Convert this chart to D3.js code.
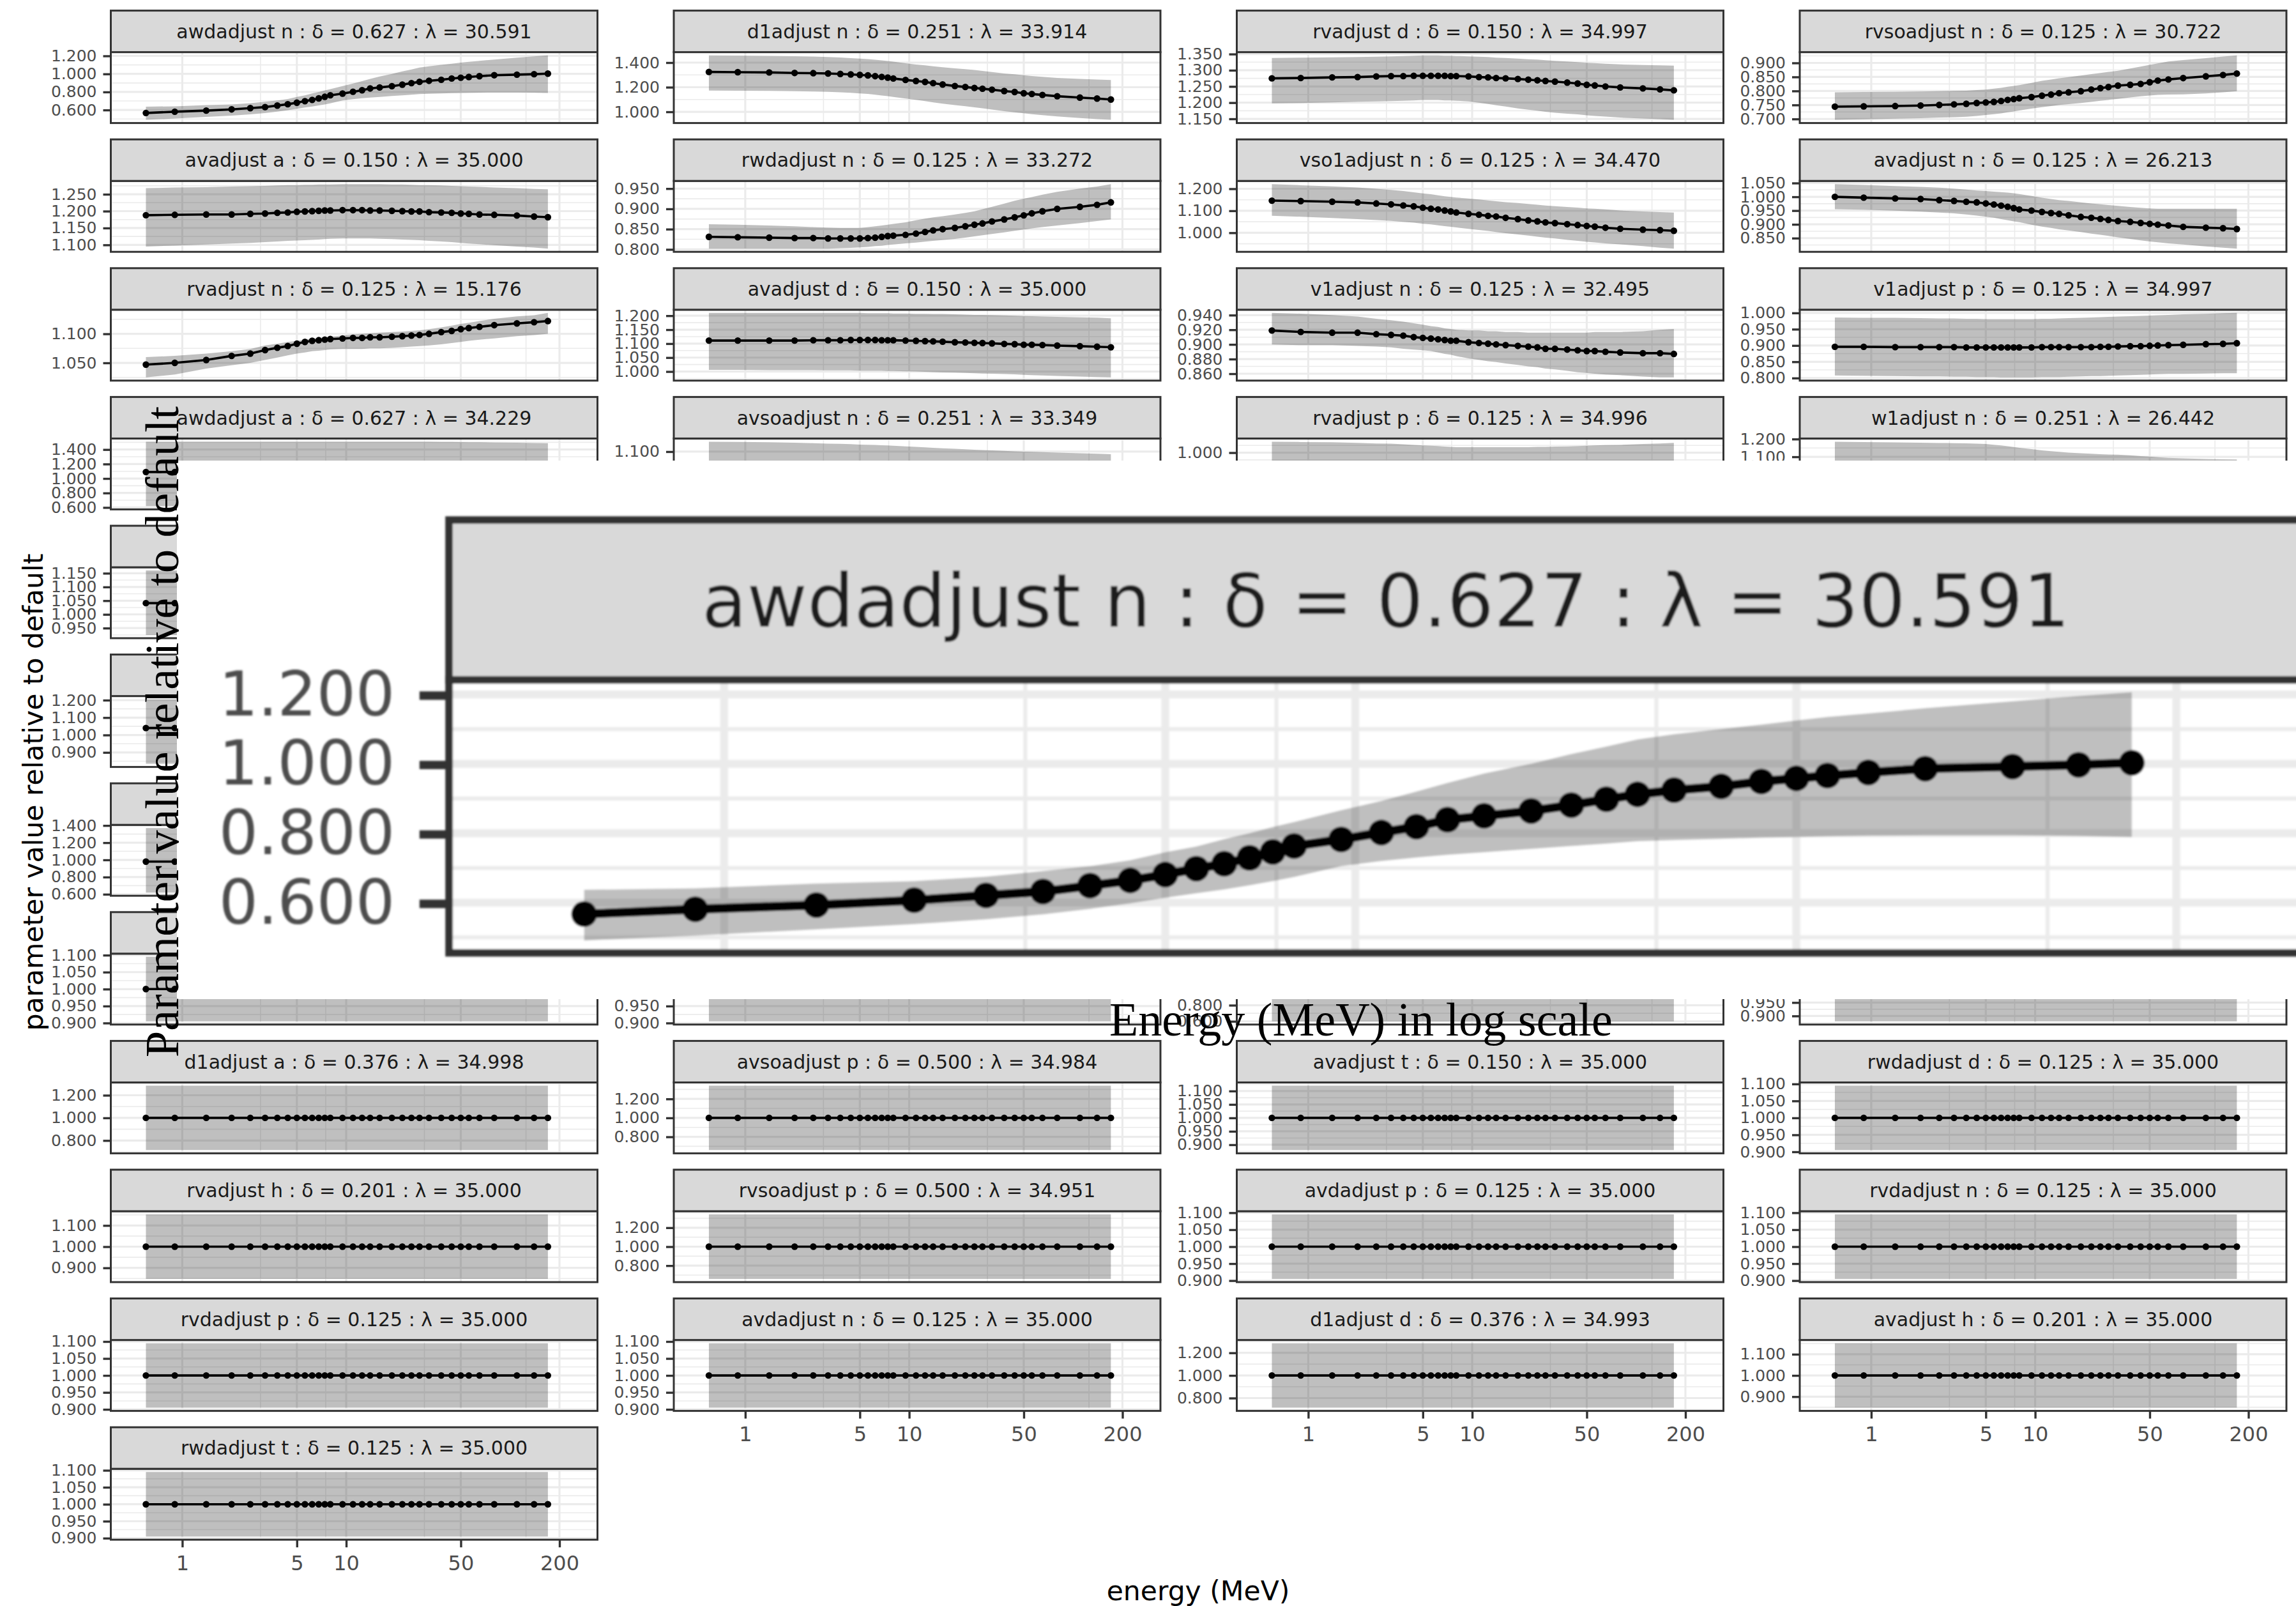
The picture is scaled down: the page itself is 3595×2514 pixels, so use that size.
<!DOCTYPE html>
<html>
<head>
<meta charset="utf-8">
<script src="https://cdn.jsdelivr.net/npm/d3@7"></script>
<style>
  html, body { margin: 0; padding: 0; background: #ffffff; }
  svg { display: block; }
</style>
</head>
<body>
<svg id="chart" width="3595" height="2514">
  <defs>
    <filter id="soft" x="-2%" y="-2%" width="104%" height="104%">
      <feGaussianBlur stdDeviation="0.45"/>
    </filter>
  </defs>
</svg>
<script>
// ---------------- data ----------------
const energy = [0.6, 0.9, 1.4, 2, 2.6, 3.2, 3.8, 4.4, 5, 5.6, 6.2,
                6.8, 7.4, 8, 9.5, 11, 12.5, 14, 16, 19, 22, 25,
                28, 32, 38, 44, 50, 56, 65, 80, 110, 140, 170];
const energyLimits = [0.5, 250];
const energyTicks = [1, 5, 10, 50, 200];
const energyMinorTicks = [3, 7.5, 30, 125];

// awdadjust n
const valAwdadjustN = [0.567,0.581,0.593,0.607,0.621,0.632,0.649,0.664,0.681,0.698,0.712,
  0.729,0.746,0.763,0.782,0.802,0.819,0.839,0.850,0.864,0.881,0.898,
  0.912,0.924,0.935,0.949,0.958,0.966,0.975,0.986,0.992,0.997,1.003];
const hiAwdadjustN = [0.637,0.641,0.655,0.662,0.675,0.691,0.705,0.722,0.745,0.762,0.783,
  0.800,0.818,0.832,0.866,0.893,0.920,0.945,0.972,1.000,1.028,1.050,
  1.070,1.085,1.100,1.113,1.125,1.135,1.145,1.160,1.180,1.195,1.206];
const loAwdadjustN = [0.491,0.505,0.523,0.538,0.552,0.566,0.582,0.598,0.614,0.627,0.638,
  0.650,0.662,0.674,0.705,0.720,0.730,0.738,0.745,0.755,0.763,0.770,
  0.777,0.780,0.784,0.787,0.789,0.791,0.793,0.794,0.794,0.792,0.789];

// d1adjust n
const valD1adjustN = [1.324,1.322,1.320,1.316,1.314,1.312,1.308,1.304,1.300,1.296,1.290,
  1.284,1.278,1.271,1.259,1.251,1.243,1.233,1.222,1.210,1.202,1.194,
  1.188,1.180,1.169,1.161,1.151,1.145,1.137,1.127,1.116,1.108,1.100];
const hiD1adjustN = [1.459,1.457,1.455,1.452,1.449,1.445,1.441,1.437,1.432,1.428,1.423,
  1.418,1.413,1.408,1.395,1.385,1.378,1.370,1.362,1.353,1.347,1.340,
  1.332,1.323,1.312,1.305,1.297,1.291,1.284,1.276,1.268,1.263,1.259];
const loD1adjustN = [1.173,1.171,1.170,1.168,1.165,1.163,1.159,1.155,1.150,1.145,1.139,
  1.133,1.127,1.121,1.108,1.097,1.087,1.077,1.067,1.055,1.046,1.037,
  1.029,1.019,1.006,0.996,0.988,0.981,0.973,0.963,0.950,0.941,0.935];

// rvadjust d
const valRvadjustD = [1.275,1.276,1.278,1.279,1.281,1.282,1.282,1.283,1.283,1.283,1.283,
  1.283,1.282,1.282,1.281,1.279,1.278,1.276,1.275,1.273,1.271,1.269,
  1.267,1.265,1.262,1.259,1.255,1.253,1.250,1.247,1.244,1.241,1.238];
const hiRvadjustD = [1.338,1.339,1.340,1.341,1.342,1.343,1.344,1.345,1.346,1.346,1.346,
  1.345,1.345,1.344,1.343,1.342,1.341,1.339,1.338,1.336,1.334,1.333,
  1.331,1.329,1.327,1.325,1.323,1.322,1.320,1.318,1.316,1.315,1.314];
const loRvadjustD = [1.198,1.199,1.201,1.203,1.204,1.205,1.206,1.207,1.208,1.208,1.208,
  1.207,1.207,1.206,1.204,1.200,1.196,1.192,1.188,1.182,1.178,1.175,
  1.172,1.169,1.166,1.164,1.161,1.159,1.157,1.154,1.151,1.149,1.147];

// rvsoadjust n
const valRvsoadjustN = [0.744,0.745,0.746,0.748,0.750,0.752,0.754,0.757,0.759,0.761,0.764,
  0.768,0.771,0.774,0.778,0.783,0.787,0.792,0.795,0.799,0.805,0.810,
  0.814,0.819,0.822,0.825,0.831,0.837,0.841,0.846,0.852,0.857,0.862];
const hiRvsoadjustN = [0.795,0.796,0.797,0.798,0.799,0.800,0.801,0.803,0.805,0.808,0.811,
  0.815,0.818,0.821,0.829,0.836,0.841,0.845,0.849,0.855,0.860,0.864,
  0.868,0.872,0.880,0.887,0.893,0.898,0.905,0.910,0.917,0.923,0.927];
const loRvsoadjustN = [0.697,0.699,0.701,0.703,0.705,0.706,0.708,0.711,0.714,0.717,0.720,
  0.724,0.727,0.730,0.737,0.742,0.746,0.750,0.753,0.757,0.761,0.765,
  0.768,0.772,0.777,0.781,0.784,0.786,0.787,0.788,0.791,0.795,0.799];

// avadjust a
const valAvadjustA = [1.188,1.189,1.190,1.190,1.192,1.193,1.195,1.196,1.198,1.199,1.200,
  1.201,1.202,1.202,1.203,1.203,1.203,1.202,1.202,1.201,1.200,1.199,
  1.199,1.197,1.196,1.195,1.193,1.192,1.190,1.189,1.187,1.184,1.182];
const hiAvadjustA = [1.268,1.270,1.271,1.273,1.274,1.275,1.276,1.277,1.277,1.278,1.278,
  1.279,1.279,1.279,1.280,1.280,1.280,1.280,1.280,1.279,1.279,1.278,
  1.277,1.277,1.276,1.275,1.274,1.273,1.272,1.270,1.268,1.266,1.265];
const loAvadjustA = [1.095,1.098,1.101,1.104,1.106,1.108,1.110,1.112,1.113,1.114,1.115,
  1.116,1.117,1.118,1.119,1.119,1.119,1.119,1.118,1.117,1.116,1.115,
  1.114,1.112,1.110,1.108,1.106,1.104,1.102,1.099,1.095,1.092,1.089];

// rwdadjust n
const valRwdadjustN = [0.831,0.830,0.829,0.828,0.828,0.827,0.827,0.827,0.827,0.828,0.829,
  0.831,0.833,0.834,0.836,0.839,0.843,0.847,0.850,0.853,0.857,0.861,
  0.864,0.869,0.874,0.879,0.884,0.889,0.894,0.900,0.905,0.910,0.916];
const hiRwdadjustN = [0.862,0.861,0.859,0.857,0.855,0.854,0.853,0.853,0.853,0.855,0.857,
  0.859,0.861,0.863,0.867,0.872,0.876,0.879,0.882,0.886,0.890,0.894,
  0.899,0.905,0.913,0.920,0.925,0.929,0.935,0.942,0.950,0.955,0.961];
const loRwdadjustN = [0.802,0.802,0.802,0.802,0.802,0.802,0.803,0.804,0.805,0.806,0.808,
  0.809,0.811,0.812,0.815,0.817,0.819,0.821,0.823,0.826,0.829,0.832,
  0.835,0.838,0.842,0.846,0.849,0.852,0.855,0.859,0.865,0.870,0.874];

// vso1adjust n
const valVso1adjustN = [1.146,1.144,1.141,1.138,1.133,1.129,1.124,1.120,1.114,1.109,1.106,
  1.101,1.097,1.092,1.086,1.082,1.077,1.074,1.068,1.062,1.056,1.052,
  1.047,1.044,1.039,1.035,1.031,1.028,1.023,1.018,1.014,1.012,1.009];
const hiVso1adjustN = [1.221,1.216,1.211,1.206,1.200,1.195,1.190,1.184,1.179,1.175,1.170,
  1.166,1.163,1.160,1.156,1.151,1.147,1.143,1.139,1.135,1.131,1.127,
  1.124,1.121,1.117,1.114,1.111,1.109,1.106,1.101,1.097,1.094,1.092];
const loVso1adjustN = [1.077,1.073,1.067,1.062,1.058,1.054,1.050,1.046,1.041,1.038,1.034,
  1.030,1.027,1.024,1.018,1.013,1.008,1.003,0.998,0.992,0.987,0.982,
  0.978,0.974,0.968,0.963,0.959,0.956,0.952,0.947,0.939,0.932,0.928];

// avadjust n
const valAvadjustN = [1.000,0.997,0.994,0.992,0.988,0.985,0.982,0.980,0.976,0.972,0.968,
  0.964,0.959,0.954,0.950,0.945,0.941,0.938,0.933,0.927,0.924,0.920,
  0.916,0.912,0.909,0.905,0.902,0.899,0.896,0.891,0.888,0.886,0.883];
const hiAvadjustN = [1.046,1.043,1.039,1.036,1.033,1.030,1.026,1.023,1.021,1.019,1.017,
  1.015,1.013,1.010,1.003,0.997,0.992,0.988,0.985,0.980,0.976,0.973,
  0.970,0.967,0.963,0.960,0.958,0.957,0.957,0.957,0.957,0.957,0.957];
const loAvadjustN = [0.955,0.953,0.950,0.946,0.943,0.940,0.936,0.932,0.928,0.924,0.919,
  0.915,0.911,0.908,0.899,0.892,0.887,0.882,0.878,0.872,0.866,0.862,
  0.858,0.853,0.847,0.842,0.838,0.835,0.831,0.827,0.820,0.815,0.812];

// rvadjust n
const valRvadjustN = [1.047,1.050,1.055,1.062,1.066,1.072,1.076,1.079,1.083,1.086,1.088,
  1.089,1.090,1.091,1.092,1.093,1.093,1.094,1.094,1.095,1.096,1.097,
  1.098,1.100,1.103,1.105,1.108,1.110,1.112,1.115,1.118,1.120,1.122];
const hiRvadjustN = [1.060,1.062,1.066,1.070,1.074,1.080,1.083,1.086,1.088,1.090,1.092,
  1.093,1.094,1.095,1.097,1.099,1.100,1.101,1.102,1.103,1.104,1.105,
  1.106,1.108,1.111,1.114,1.117,1.119,1.122,1.126,1.130,1.132,1.136];
const loRvadjustN = [1.025,1.030,1.040,1.046,1.050,1.055,1.059,1.063,1.066,1.068,1.070,
  1.071,1.072,1.073,1.074,1.074,1.074,1.075,1.075,1.076,1.077,1.078,
  1.079,1.080,1.082,1.084,1.086,1.088,1.090,1.092,1.096,1.098,1.100];

// avadjust d
const valAvadjustD = [1.111,1.111,1.111,1.111,1.112,1.112,1.112,1.113,1.113,1.113,1.113,
  1.112,1.112,1.112,1.111,1.110,1.109,1.108,1.107,1.105,1.104,1.103,
  1.102,1.101,1.099,1.098,1.096,1.096,1.095,1.093,1.091,1.089,1.087];
const hiAvadjustD = [1.210,1.210,1.210,1.210,1.210,1.210,1.210,1.210,1.210,1.209,1.209,
  1.209,1.209,1.208,1.208,1.207,1.207,1.206,1.206,1.205,1.204,1.203,
  1.203,1.202,1.201,1.200,1.199,1.198,1.197,1.196,1.194,1.193,1.191];
const loAvadjustD = [1.006,1.006,1.005,1.005,1.005,1.004,1.004,1.004,1.003,1.003,1.003,
  1.003,1.002,1.002,1.001,1.000,0.999,0.998,0.997,0.996,0.995,0.994,
  0.993,0.992,0.991,0.990,0.988,0.987,0.986,0.984,0.982,0.980,0.979];

// v1adjust n
const valV1adjustN = [0.919,0.917,0.916,0.916,0.914,0.913,0.912,0.910,0.909,0.908,0.907,
  0.906,0.905,0.905,0.903,0.902,0.901,0.900,0.899,0.898,0.897,0.896,
  0.894,0.894,0.893,0.892,0.891,0.891,0.890,0.889,0.888,0.888,0.887];
const hiV1adjustN = [0.943,0.942,0.940,0.938,0.935,0.933,0.931,0.929,0.927,0.925,0.924,
  0.922,0.921,0.920,0.919,0.919,0.918,0.918,0.917,0.917,0.916,0.916,
  0.916,0.916,0.916,0.916,0.916,0.917,0.917,0.917,0.918,0.920,0.921];
const loV1adjustN = [0.900,0.899,0.899,0.898,0.897,0.896,0.894,0.893,0.892,0.891,0.889,
  0.887,0.886,0.884,0.881,0.879,0.877,0.876,0.874,0.872,0.870,0.869,
  0.867,0.866,0.864,0.862,0.861,0.860,0.859,0.858,0.856,0.855,0.855];

// v1adjust p
const valV1adjustP = [0.896,0.896,0.895,0.895,0.895,0.895,0.894,0.894,0.894,0.894,0.894,
  0.894,0.894,0.894,0.894,0.895,0.895,0.895,0.895,0.895,0.895,0.896,
  0.896,0.897,0.898,0.898,0.899,0.900,0.901,0.902,0.904,0.905,0.907];
const hiV1adjustP = [0.986,0.985,0.985,0.984,0.983,0.983,0.982,0.982,0.981,0.981,0.981,
  0.981,0.981,0.981,0.981,0.982,0.982,0.983,0.984,0.985,0.986,0.987,
  0.988,0.989,0.990,0.991,0.992,0.993,0.994,0.996,0.997,0.999,1.000];
const loV1adjustP = [0.808,0.807,0.806,0.805,0.805,0.804,0.804,0.803,0.803,0.803,0.802,
  0.802,0.802,0.802,0.802,0.803,0.803,0.803,0.804,0.805,0.806,0.806,
  0.807,0.808,0.809,0.810,0.811,0.812,0.813,0.813,0.814,0.815,0.815];

// awdadjust a
const valAwdadjustA = [1.090,1.090,1.089,1.089,1.088,1.088,1.087,1.087,1.086,1.086,1.085,
  1.085,1.084,1.084,1.083,1.082,1.081,1.080,1.079,1.078,1.077,1.076,
  1.075,1.074,1.073,1.072,1.071,1.070,1.069,1.068,1.066,1.064,1.062];
const hiAwdadjustA = [1.508,1.508,1.508,1.508,1.508,1.508,1.508,1.508,1.508,1.508,1.508,
  1.508,1.508,1.508,1.508,1.508,1.508,1.508,1.508,1.508,1.508,1.508,
  1.507,1.507,1.506,1.505,1.504,1.502,1.500,1.497,1.494,1.490,1.487];
const loAwdadjustA = [0.618,0.618,0.618,0.618,0.618,0.618,0.618,0.618,0.618,0.618,0.618,
  0.618,0.618,0.618,0.618,0.618,0.618,0.618,0.618,0.618,0.618,0.618,
  0.619,0.620,0.621,0.622,0.624,0.626,0.628,0.631,0.634,0.638,0.642];

// avsoadjust n
const valAvsoadjustN = [1.005,1.005,1.004,1.004,1.003,1.003,1.003,1.002,1.002,1.002,1.001,
  1.001,1.001,1.001,1.000,1.000,0.999,0.999,0.998,0.998,0.997,0.997,
  0.996,0.996,0.995,0.994,0.994,0.993,0.992,0.991,0.990,0.989,0.988];
const hiAvsoadjustN = [1.142,1.141,1.140,1.138,1.136,1.134,1.133,1.132,1.130,1.129,1.128,
  1.127,1.126,1.125,1.122,1.120,1.118,1.116,1.114,1.112,1.110,1.108,
  1.107,1.105,1.103,1.101,1.100,1.099,1.098,1.096,1.093,1.091,1.089];
const loAvsoadjustN = [0.869,0.869,0.869,0.869,0.870,0.870,0.870,0.871,0.871,0.871,0.872,
  0.872,0.872,0.873,0.873,0.874,0.874,0.875,0.875,0.876,0.876,0.877,
  0.877,0.878,0.878,0.879,0.879,0.880,0.880,0.881,0.882,0.883,0.884];

// rvadjust p
const valRvadjustP = [0.931,0.931,0.930,0.930,0.929,0.929,0.928,0.928,0.927,0.927,0.927,
  0.926,0.926,0.926,0.925,0.925,0.925,0.925,0.925,0.925,0.925,0.925,
  0.926,0.926,0.926,0.927,0.927,0.928,0.928,0.929,0.930,0.931,0.932];
const hiRvadjustP = [1.038,1.037,1.036,1.034,1.032,1.031,1.029,1.027,1.025,1.024,1.023,
  1.021,1.020,1.019,1.019,1.019,1.019,1.019,1.019,1.019,1.019,1.020,
  1.020,1.021,1.022,1.023,1.024,1.025,1.026,1.027,1.030,1.032,1.034];
const loRvadjustP = [0.824,0.823,0.822,0.821,0.820,0.819,0.818,0.817,0.816,0.816,0.815,
  0.815,0.814,0.814,0.814,0.814,0.814,0.814,0.814,0.815,0.815,0.816,
  0.816,0.817,0.818,0.819,0.820,0.821,0.822,0.823,0.825,0.827,0.829];

// w1adjust n
const valW1adjustN = [1.042,1.041,1.040,1.039,1.038,1.037,1.036,1.034,1.032,1.029,1.026,
  1.023,1.019,1.015,1.008,1.001,0.996,0.992,0.988,0.984,0.980,0.977,
  0.975,0.973,0.970,0.967,0.965,0.963,0.960,0.958,0.956,0.954,0.953];
const hiW1adjustN = [1.185,1.183,1.181,1.179,1.178,1.177,1.176,1.174,1.172,1.168,1.164,
  1.160,1.155,1.151,1.143,1.136,1.132,1.128,1.124,1.120,1.117,1.115,
  1.113,1.112,1.108,1.104,1.101,1.098,1.094,1.091,1.088,1.086,1.085];
const loW1adjustN = [0.900,0.898,0.896,0.894,0.892,0.890,0.888,0.886,0.884,0.881,0.878,
  0.875,0.872,0.869,0.864,0.860,0.856,0.853,0.850,0.847,0.844,0.842,
  0.840,0.838,0.835,0.833,0.831,0.829,0.827,0.825,0.824,0.823,0.822];

// unnamed column-one panels (rows 5 to 7)
const valRow5 = [1.041,1.041,1.041,1.041,1.041,1.041,1.041,1.041,1.041,1.041,1.041,
  1.041,1.041,1.041,1.041,1.041,1.041,1.041,1.041,1.041,1.041,1.041,
  1.041,1.041,1.041,1.041,1.041,1.041,1.041,1.041,1.041,1.041,1.041];
const hiRow5 = [1.160,1.160,1.160,1.160,1.160,1.160,1.160,1.160,1.160,1.160,1.160,
  1.160,1.160,1.160,1.160,1.160,1.160,1.160,1.160,1.160,1.160,1.160,
  1.160,1.160,1.160,1.160,1.160,1.160,1.160,1.160,1.160,1.160,1.160];
const loRow5 = [0.925,0.925,0.925,0.925,0.925,0.925,0.925,0.925,0.925,0.925,0.925,
  0.925,0.925,0.925,0.925,0.925,0.925,0.925,0.925,0.925,0.925,0.925,
  0.925,0.925,0.925,0.925,0.925,0.925,0.925,0.925,0.925,0.925,0.925];
const valRow6 = [1.040,1.040,1.040,1.040,1.040,1.040,1.040,1.040,1.040,1.040,1.040,
  1.040,1.040,1.040,1.040,1.040,1.040,1.040,1.040,1.040,1.040,1.040,
  1.040,1.040,1.040,1.040,1.040,1.040,1.040,1.040,1.040,1.040,1.040];
const hiRow6 = [1.205,1.205,1.205,1.205,1.205,1.205,1.205,1.205,1.205,1.205,1.205,
  1.205,1.205,1.205,1.205,1.205,1.205,1.205,1.205,1.205,1.205,1.205,
  1.205,1.205,1.205,1.205,1.205,1.205,1.205,1.205,1.205,1.205,1.205];
const loRow6 = [0.835,0.835,0.835,0.835,0.835,0.835,0.835,0.835,0.835,0.835,0.835,
  0.835,0.835,0.835,0.835,0.835,0.835,0.835,0.835,0.835,0.835,0.835,
  0.835,0.835,0.835,0.835,0.835,0.835,0.835,0.835,0.835,0.835,0.835];
const valRow7 = [0.980,0.980,0.980,0.980,0.980,0.980,0.980,0.980,0.980,0.980,0.980,
  0.980,0.980,0.980,0.980,0.980,0.980,0.980,0.980,0.980,0.980,0.980,
  0.980,0.980,0.980,0.980,0.980,0.980,0.980,0.980,0.980,0.980,0.980];
const hiRow7 = [1.370,1.370,1.370,1.370,1.370,1.370,1.370,1.370,1.370,1.370,1.370,
  1.370,1.370,1.370,1.370,1.370,1.370,1.370,1.370,1.370,1.370,1.370,
  1.370,1.370,1.370,1.370,1.370,1.370,1.370,1.370,1.370,1.370,1.370];
const loRow7 = [0.620,0.620,0.620,0.620,0.620,0.620,0.620,0.620,0.620,0.620,0.620,
  0.620,0.620,0.620,0.620,0.620,0.620,0.620,0.620,0.620,0.620,0.620,
  0.620,0.620,0.620,0.620,0.620,0.620,0.620,0.620,0.620,0.620,0.620];

// parameters that stay at their default value
const valDefault = [1,1,1,1,1,1,1,1,1,1,1, 1,1,1,1,1,1,1,1,1,1,1, 1,1,1,1,1,1,1,1,1,1,1];
const hiBand095 = [1.095,1.095,1.095,1.095,1.095,1.095,1.095,1.095,1.095,1.095,1.095,
  1.095,1.095,1.095,1.095,1.095,1.095,1.095,1.095,1.095,1.095,1.095,
  1.095,1.095,1.095,1.095,1.095,1.095,1.095,1.095,1.095,1.095,1.095];
const loBand095 = [0.905,0.905,0.905,0.905,0.905,0.905,0.905,0.905,0.905,0.905,0.905,
  0.905,0.905,0.905,0.905,0.905,0.905,0.905,0.905,0.905,0.905,0.905,
  0.905,0.905,0.905,0.905,0.905,0.905,0.905,0.905,0.905,0.905,0.905];
const hiBand120 = [1.120,1.120,1.120,1.120,1.120,1.120,1.120,1.120,1.120,1.120,1.120,
  1.120,1.120,1.120,1.120,1.120,1.120,1.120,1.120,1.120,1.120,1.120,
  1.120,1.120,1.120,1.120,1.120,1.120,1.120,1.120,1.120,1.120,1.120];
const loBand120 = [0.880,0.880,0.880,0.880,0.880,0.880,0.880,0.880,0.880,0.880,0.880,
  0.880,0.880,0.880,0.880,0.880,0.880,0.880,0.880,0.880,0.880,0.880,
  0.880,0.880,0.880,0.880,0.880,0.880,0.880,0.880,0.880,0.880,0.880];
const hiBand152 = [1.152,1.152,1.152,1.152,1.152,1.152,1.152,1.152,1.152,1.152,1.152,
  1.152,1.152,1.152,1.152,1.152,1.152,1.152,1.152,1.152,1.152,1.152,
  1.152,1.152,1.152,1.152,1.152,1.152,1.152,1.152,1.152,1.152,1.152];
const loBand152 = [0.848,0.848,0.848,0.848,0.848,0.848,0.848,0.848,0.848,0.848,0.848,
  0.848,0.848,0.848,0.848,0.848,0.848,0.848,0.848,0.848,0.848,0.848,
  0.848,0.848,0.848,0.848,0.848,0.848,0.848,0.848,0.848,0.848,0.848];
const hiBand285 = [1.285,1.285,1.285,1.285,1.285,1.285,1.285,1.285,1.285,1.285,1.285,
  1.285,1.285,1.285,1.285,1.285,1.285,1.285,1.285,1.285,1.285,1.285,
  1.285,1.285,1.285,1.285,1.285,1.285,1.285,1.285,1.285,1.285,1.285];
const loBand285 = [0.715,0.715,0.715,0.715,0.715,0.715,0.715,0.715,0.715,0.715,0.715,
  0.715,0.715,0.715,0.715,0.715,0.715,0.715,0.715,0.715,0.715,0.715,
  0.715,0.715,0.715,0.715,0.715,0.715,0.715,0.715,0.715,0.715,0.715];
const hiBand340 = [1.340,1.340,1.340,1.340,1.340,1.340,1.340,1.340,1.340,1.340,1.340,
  1.340,1.340,1.340,1.340,1.340,1.340,1.340,1.340,1.340,1.340,1.340,
  1.340,1.340,1.340,1.340,1.340,1.340,1.340,1.340,1.340,1.340,1.340];
const loBand340 = [0.660,0.660,0.660,0.660,0.660,0.660,0.660,0.660,0.660,0.660,0.660,
  0.660,0.660,0.660,0.660,0.660,0.660,0.660,0.660,0.660,0.660,0.660,
  0.660,0.660,0.660,0.660,0.660,0.660,0.660,0.660,0.660,0.660,0.660];
const hiBand400 = [1.400,1.400,1.400,1.400,1.400,1.400,1.400,1.400,1.400,1.400,1.400,
  1.400,1.400,1.400,1.400,1.400,1.400,1.400,1.400,1.400,1.400,1.400,
  1.400,1.400,1.400,1.400,1.400,1.400,1.400,1.400,1.400,1.400,1.400];
const loBand400 = [0.600,0.600,0.600,0.600,0.600,0.600,0.600,0.600,0.600,0.600,0.600,
  0.600,0.600,0.600,0.600,0.600,0.600,0.600,0.600,0.600,0.600,0.600,
  0.600,0.600,0.600,0.600,0.600,0.600,0.600,0.600,0.600,0.600,0.600];

// facets in reading order, 4 per row (null = no panel drawn in that slot)
const panelTitles = [
  "awdadjust n : δ = 0.627 : λ = 30.591", "d1adjust n : δ = 0.251 : λ = 33.914",
  "rvadjust d : δ = 0.150 : λ = 34.997", "rvsoadjust n : δ = 0.125 : λ = 30.722",
  "avadjust a : δ = 0.150 : λ = 35.000", "rwdadjust n : δ = 0.125 : λ = 33.272",
  "vso1adjust n : δ = 0.125 : λ = 34.470", "avadjust n : δ = 0.125 : λ = 26.213",
  "rvadjust n : δ = 0.125 : λ = 15.176", "avadjust d : δ = 0.150 : λ = 35.000",
  "v1adjust n : δ = 0.125 : λ = 32.495", "v1adjust p : δ = 0.125 : λ = 34.997",
  "awdadjust a : δ = 0.627 : λ = 34.229", "avsoadjust n : δ = 0.251 : λ = 33.349",
  "rvadjust p : δ = 0.125 : λ = 34.996", "w1adjust n : δ = 0.251 : λ = 26.442",
  null, null, null, null,
  null, null, null, null,
  null, null, null, null,
  null, null, null, null,
  "d1adjust a : δ = 0.376 : λ = 34.998", "avsoadjust p : δ = 0.500 : λ = 34.984",
  "avadjust t : δ = 0.150 : λ = 35.000", "rwdadjust d : δ = 0.125 : λ = 35.000",
  "rvadjust h : δ = 0.201 : λ = 35.000", "rvsoadjust p : δ = 0.500 : λ = 34.951",
  "avdadjust p : δ = 0.125 : λ = 35.000", "rvdadjust n : δ = 0.125 : λ = 35.000",
  "rvdadjust p : δ = 0.125 : λ = 35.000", "avdadjust n : δ = 0.125 : λ = 35.000",
  "d1adjust d : δ = 0.376 : λ = 34.993", "avadjust h : δ = 0.201 : λ = 35.000",
  "rwdadjust t : δ = 0.125 : λ = 35.000"
];

const panelValues = [
  valAwdadjustN, valD1adjustN, valRvadjustD, valRvsoadjustN,
  valAvadjustA, valRwdadjustN, valVso1adjustN, valAvadjustN,
  valRvadjustN, valAvadjustD, valV1adjustN, valV1adjustP,
  valAwdadjustA, valAvsoadjustN, valRvadjustP, valW1adjustN,
  valRow5, null, null, null,
  valRow6, null, null, null,
  valRow7, null, null, null,
  valDefault, valDefault, valDefault, valDefault,
  valDefault, valDefault, valDefault, valDefault,
  valDefault, valDefault, valDefault, valDefault,
  valDefault, valDefault, valDefault, valDefault,
  valDefault
];
const panelUpper = [
  hiAwdadjustN, hiD1adjustN, hiRvadjustD, hiRvsoadjustN,
  hiAvadjustA, hiRwdadjustN, hiVso1adjustN, hiAvadjustN,
  hiRvadjustN, hiAvadjustD, hiV1adjustN, hiV1adjustP,
  hiAwdadjustA, hiAvsoadjustN, hiRvadjustP, hiW1adjustN,
  hiRow5, null, null, null,
  hiRow6, null, null, null,
  hiRow7, null, null, null,
  hiBand095, hiBand095, hiBand400, hiBand120,
  hiBand285, hiBand340, hiBand120, hiBand095,
  hiBand152, hiBand340, hiBand095, hiBand095,
  hiBand095, hiBand095, hiBand285, hiBand152,
  hiBand095
];
const panelLower = [
  loAwdadjustN, loD1adjustN, loRvadjustD, loRvsoadjustN,
  loAvadjustA, loRwdadjustN, loVso1adjustN, loAvadjustN,
  loRvadjustN, loAvadjustD, loV1adjustN, loV1adjustP,
  loAwdadjustA, loAvsoadjustN, loRvadjustP, loW1adjustN,
  loRow5, null, null, null,
  loRow6, null, null, null,
  loRow7, null, null, null,
  loBand095, loBand095, loBand400, loBand120,
  loBand285, loBand340, loBand120, loBand095,
  loBand152, loBand340, loBand095, loBand095,
  loBand095, loBand095, loBand285, loBand152,
  loBand095
];

// y tick labels of each facet
const ticks05 = [0.9, 0.95, 1.0, 1.05, 1.1];
const ticks10 = [0.9, 1.0, 1.1];
const ticks20 = [0.8, 1.0, 1.2];
const panelTicks = [
  [0.6, 0.8, 1.0, 1.2], [1.0, 1.2, 1.4], [1.15, 1.2, 1.25, 1.3, 1.35], [0.7, 0.75, 0.8, 0.85, 0.9],
  [1.1, 1.15, 1.2, 1.25], [0.8, 0.85, 0.9, 0.95], [1.0, 1.1, 1.2], [0.8, 0.85, 0.9, 0.95, 1.0, 1.05],
  [1.05, 1.1], [1.0, 1.05, 1.1, 1.15, 1.2], [0.86, 0.88, 0.9, 0.92, 0.94], [0.8, 0.85, 0.9, 0.95, 1.0],
  [0.6, 0.8, 1.0, 1.2, 1.4], [0.9, 1.0, 1.1], [0.85, 0.9, 0.95, 1.0], [0.9, 1.0, 1.1, 1.2],
  [0.95, 1.0, 1.05, 1.1, 1.15], null, null, null,
  [0.9, 1.0, 1.1, 1.2], null, null, null,
  [0.6, 0.8, 1.0, 1.2, 1.4], null, null, null,
  ticks05, ticks05, [0.6, 0.8, 1.0, 1.2, 1.4], ticks05,
  ticks20, ticks20, ticks05, ticks05,
  ticks10, ticks20, ticks05, ticks05,
  ticks05, ticks05, ticks20, ticks10,
  ticks05
];

// ---------------- layout & style ----------------
const W = 3595, H = 2514;
const nCols = 4;
const panelLeft0 = 173.5, colStep = 881.5, panelW = 762;
const stripTop0 = 16.6, rowStep = 201.6, stripH = 65, panelH = 111;
const bottomOfColumn = new Set([44, 41, 42, 43]);

const sansFont = "'DejaVu Sans', 'Noto Sans', sans-serif";
const serifFont = "'Liberation Serif', 'DejaVu Serif', serif";
const frameColor = "#333333";
const gridColor = "#ebebeb";
const stripFill = "#d9d9d9";
const tickTextColor = "#4d4d4d";

const svg = d3.select("#chart");
svg.append("rect").attr("width", W).attr("height", H).attr("fill", "#ffffff");

// log energy axis with 5% padding around the fixed limits
const logLo = Math.log10(energyLimits[0]), logHi = Math.log10(energyLimits[1]);
const logPad = 0.05 * (logHi - logLo);
const x = d3.scaleLog()
  .domain([Math.pow(10, logLo - logPad), Math.pow(10, logHi + logPad)])
  .range([0, panelW]);

function yScaleFor(i) {
  const lo = Math.min(d3.min(panelLower[i]), d3.min(panelValues[i]));
  const hi = Math.max(d3.max(panelUpper[i]), d3.max(panelValues[i]));
  const pad = 0.05 * (hi - lo);
  return d3.scaleLinear().domain([lo - pad, hi + pad]).range([panelH, 0]);
}

function drawPanel(parent, i) {
  if (!panelValues[i]) return;
  const r = Math.floor(i / nCols), c = i % nCols;
  const px = panelLeft0 + c * colStep;
  const sy = stripTop0 + r * rowStep;
  const py = sy + stripH;
  const y = yScaleFor(i);
  const [d0, d1] = y.domain();
  const [e0, e1] = x.domain();

  const g = parent.append("g").attr("transform", `translate(${px},${py})`);
  g.append("rect").attr("width", panelW).attr("height", panelH).attr("fill", "#ffffff");

  const ticksY = panelTicks[i];
  const step = ticksY[1] - ticksY[0];
  const minorY = [ticksY[0] - step / 2, ...d3.pairs(ticksY, (a, b) => (a + b) / 2),
                  ticksY[ticksY.length - 1] + step / 2].filter(v => v > d0 && v < d1);
  const minorX = energyMinorTicks.filter(v => v > e0 && v < e1);
  const majorX = energyTicks.filter(v => v > e0 && v < e1);
  const majorY = ticksY.filter(v => v >= d0 && v <= d1);

  const grid = g.append("g");
  grid.selectAll(null).data(minorY).join("line")
    .attr("x1", 0).attr("x2", panelW).attr("y1", d => y(d)).attr("y2", d => y(d))
    .attr("stroke", gridColor).attr("stroke-width", 1.6);
  grid.selectAll(null).data(minorX).join("line")
    .attr("y1", 0).attr("y2", panelH).attr("x1", d => x(d)).attr("x2", d => x(d))
    .attr("stroke", gridColor).attr("stroke-width", 1.6);
  grid.selectAll(null).data(majorY).join("line")
    .attr("x1", 0).attr("x2", panelW).attr("y1", d => y(d)).attr("y2", d => y(d))
    .attr("stroke", gridColor).attr("stroke-width", 3.2);
  grid.selectAll(null).data(majorX).join("line")
    .attr("y1", 0).attr("y2", panelH).attr("x1", d => x(d)).attr("x2", d => x(d))
    .attr("stroke", gridColor).attr("stroke-width", 3.2);

  const pts = energy.map((e, k) => ({
    e, v: panelValues[i][k], lo: panelLower[i][k], hi: panelUpper[i][k]
  }));

  g.append("path").datum(pts)
    .attr("d", d3.area().x(d => x(d.e)).y0(d => y(d.lo)).y1(d => y(d.hi)))
    .attr("fill", "#000000").attr("fill-opacity", 0.25);
  g.append("path").datum(pts)
    .attr("d", d3.line().x(d => x(d.e)).y(d => y(d.v)))
    .attr("fill", "none").attr("stroke", "#000000").attr("stroke-width", 3.6);
  g.append("g").selectAll("circle").data(pts).join("circle")
    .attr("cx", d => x(d.e)).attr("cy", d => y(d.v)).attr("r", 5.2).attr("fill", "#000000");

  g.append("rect").attr("width", panelW).attr("height", panelH)
    .attr("fill", "none").attr("stroke", frameColor).attr("stroke-width", 3);

  const yAxis = g.append("g")
    .call(d3.axisLeft(y).tickValues(majorY).tickFormat(d3.format(".3f")).tickSize(12).tickPadding(10));
  yAxis.select(".domain").remove();
  yAxis.attr("font-family", sansFont).attr("font-size", 25);
  yAxis.selectAll("line").attr("stroke", frameColor).attr("stroke-width", 3.4);
  yAxis.selectAll("text").attr("fill", tickTextColor);

  if (bottomOfColumn.has(i)) {
    const xAxis = g.append("g").attr("transform", `translate(0,${panelH})`)
      .call(d3.axisBottom(x).tickValues(energyTicks).tickFormat(d3.format("d")).tickSize(12).tickPadding(13));
    xAxis.select(".domain").remove();
    xAxis.attr("font-family", sansFont).attr("font-size", 32);
    xAxis.selectAll("line").attr("stroke", frameColor).attr("stroke-width", 3.4);
    xAxis.selectAll("text").attr("fill", tickTextColor);
  }

  const s = parent.append("g").attr("transform", `translate(${px},${sy})`);
  s.append("rect").attr("width", panelW).attr("height", stripH)
    .attr("fill", stripFill).attr("stroke", frameColor).attr("stroke-width", 3);
  if (panelTitles[i]) {
    s.append("text")
      .attr("x", panelW / 2).attr("y", stripH / 2).attr("dy", "0.36em")
      .attr("text-anchor", "middle")
      .attr("font-family", sansFont).attr("font-size", 30).attr("fill", "#1a1a1a")
      .text(panelTitles[i]);
  }
}

// ---------------- facet grid ----------------
const grid = svg.append("g");
panelTitles.forEach((_, i) => drawPanel(grid, i));

svg.append("text")
  .attr("x", 1876).attr("y", 2505).attr("text-anchor", "middle")
  .attr("font-family", sansFont).attr("font-size", 42.5).attr("fill", "#000000")
  .text("energy (MeV)");
svg.append("text")
  .attr("transform", "translate(67,1240) rotate(-90)").attr("text-anchor", "middle")
  .attr("font-family", sansFont).attr("font-size", 42.5).attr("fill", "#000000")
  .text("parameter value relative to default");

// ---------------- enlarged view of the first facet ----------------
const zoomScale = 3.85;
svg.append("rect")
  .attr("x", 277).attr("y", 721).attr("width", W - 277).attr("height", 1564 - 721)
  .attr("fill", "#ffffff");
const inset = svg.append("g")
  .attr("transform", `translate(${703 - zoomScale * panelLeft0},${814 - zoomScale * stripTop0}) scale(${zoomScale})`)
  .attr("filter", "url(#soft)");
drawPanel(inset, 0);

svg.append("text")
  .attr("transform", "translate(279,1655) rotate(-90)")
  .attr("font-family", serifFont).attr("font-size", 74).attr("fill", "#000000")
  .text("Parameter value relative to default");
svg.append("text")
  .attr("x", 1737).attr("y", 1621)
  .attr("font-family", serifFont).attr("font-size", 74).attr("fill", "#000000")
  .text("Energy (MeV) in log scale");
</script>
</body>
</html>
